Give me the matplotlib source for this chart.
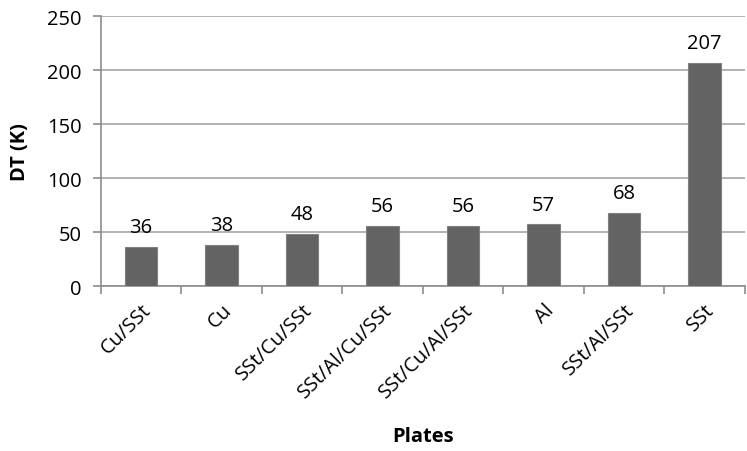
import matplotlib
matplotlib.use("Agg")
import numpy as np
import matplotlib.pyplot as plt

plates = ["Cu/SSt", "Cu", "SSt/Cu/SSt", "SSt/Al/Cu/SSt", "SSt/Cu/Al/SSt", "Al", "SSt/Al/SSt", "SSt"]
dt = [36, 38, 48, 56, 56, 57, 68, 207]

plt.rcParams['font.family'] = ['Open Sans', 'DejaVu Sans']
fs = 14.5

fig = plt.figure(figsize=(7.47, 4.52), dpi=100)
ax = fig.add_axes([0.135, 0.365, 0.862, 0.597])

x = np.arange(len(plates))
ax.bar(x, dt, width=0.4, color='#636363', edgecolor='#808080', linewidth=0.8, zorder=3)
for xi, v in zip(x, dt):
    ax.text(xi, v + 9, str(v), ha='center', va='bottom', fontsize=fs, color='black')

ax.set_xlim(-0.5, len(plates) - 0.5)
ax.set_ylim(0, 250)
ax.set_yticks(range(0, 251, 50))
ax.yaxis.grid(True, color='#a6a6a6', linewidth=1.2, zorder=0)
ax.set_axisbelow(True)

# category boundary ticks like excel
ax.set_xticks(np.arange(-0.5, len(plates), 1.0))
ax.set_xticklabels([])
ax.set_xticks(x, minor=True)
ax.set_xticklabels(plates, minor=True, rotation=45, ha='right', rotation_mode='anchor', fontsize=fs)
ax.tick_params(axis='x', which='major', length=6, color='#8c8c8c', width=1.2)
ax.tick_params(axis='x', which='minor', length=0, pad=10)
ax.tick_params(axis='y', length=6, color='#8c8c8c', width=1.2, labelsize=fs, pad=8)

for s in ['top', 'right']:
    ax.spines[s].set_visible(False)
for s in ['left', 'bottom']:
    ax.spines[s].set_color('#8c8c8c')
    ax.spines[s].set_linewidth(1.2)

fig.text(20 / 747, 1 - 152 / 452, 'DT (K)', rotation=90, ha='center', va='center', fontsize=fs, fontweight='bold')
fig.text(0.5 * (0.135 + 0.997), 1 - 437 / 452, 'Plates', ha='center', va='center', fontsize=fs, fontweight='bold')

fig.savefig('out.png', dpi=100)
